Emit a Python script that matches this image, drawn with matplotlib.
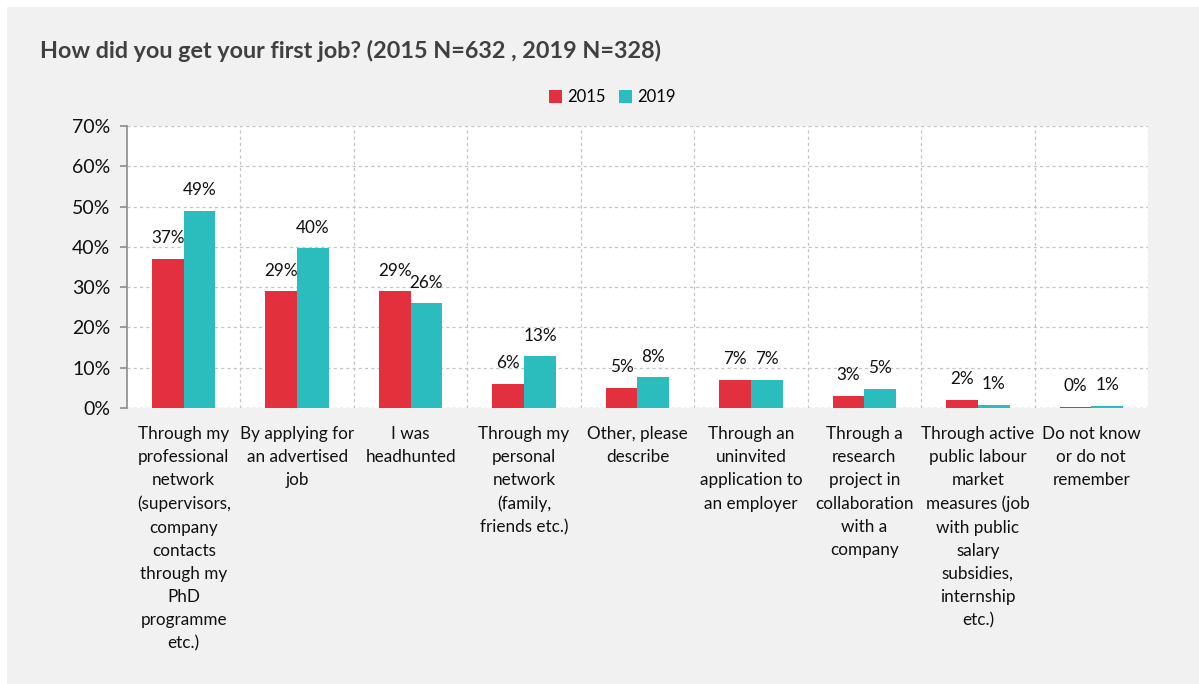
import matplotlib
matplotlib.use("Agg")
import matplotlib.pyplot as plt
import matplotlib.patches as mpatches
import numpy as np

categories = [
    "Through my\nprofessional\nnetwork\n(supervisors,\ncompany\ncontacts\nthrough my\nPhD\nprogramme\netc.)",
    "By applying for\nan advertised\njob",
    "I was\nheadhunted",
    "Through my\npersonal\nnetwork\n(family,\nfriends etc.)",
    "Other, please\ndescribe",
    "Through an\nuninvited\napplication to\nan employer",
    "Through a\nresearch\nproject in\ncollaboration\nwith a\ncompany",
    "Through active\npublic labour\nmarket\nmeasures (job\nwith public\nsalary\nsubsidies,\ninternship\netc.)",
    "Do not know\nor do not\nremember",
]
values_2015 = [37, 29, 29, 6, 5, 7, 3, 2, 0.3]
values_2019 = [49, 39.7, 26, 12.8, 7.6, 7, 4.8, 0.8, 0.6]
labels_2015 = ["37%", "29%", "29%", "6%", "5%", "7%", "3%", "2%", "0%"]
labels_2019 = ["49%", "40%", "26%", "13%", "8%", "7%", "5%", "1%", "1%"]
series_names = ["2015", "2019"]
yticks = [0, 10, 20, 30, 40, 50, 60, 70]

plt.rcParams['font.family'] = ['Lato', 'DejaVu Sans']

W, H = 1199, 684
fig = plt.figure(figsize=(W/100, H/100), dpi=100)
fig.patch.set_facecolor('white')
bg = mpatches.Rectangle((7/W, 0), 1 - 7/W, 1 - 7/H, transform=fig.transFigure,
                        facecolor='#f1f1f1', edgecolor='none', zorder=-10)
fig.patches.append(bg)

ax = fig.add_axes([127/W, 1 - 408/H, (1148-127)/W, (408-126)/H])
ax.set_zorder(1)
ax.set_facecolor('white')

red = '#e3303f'
teal = '#2bbdbd'
n = len(categories)
x = np.arange(n)
bw = 0.28
b1 = ax.bar(x - bw/2, values_2015, bw, color=red, label=series_names[0], zorder=3)
b2 = ax.bar(x + bw/2, values_2019, bw, color=teal, label=series_names[1], zorder=3)

for bars, labs in ((b1, labels_2015), (b2, labels_2019)):
    for r, lab in zip(bars, labs):
        ax.annotate(lab, (r.get_x() + r.get_width()/2, r.get_height()),
                    xytext=(0, 9), textcoords='offset points', ha='center', va='bottom',
                    fontsize=12.3, color='#111111')

ax.set_xlim(-0.5, n - 0.5)
ax.set_ylim(0, 70)
ax.set_yticks(yticks)
ax.set_yticklabels([f"{v}%" for v in yticks], fontsize=14, color='#111111')
ax.yaxis.grid(True, linestyle=(0, (2.5, 2.5)), color='#c4c4c4', linewidth=0.9, zorder=0)
for b in np.arange(0.5, n - 0.5, 1):
    ax.axvline(b, linestyle=(0, (2.5, 2.5)), color='#c4c4c4', linewidth=0.9, zorder=0)
ax.axvline(n - 0.5, linestyle=(0, (2.5, 2.5)), color='#c4c4c4', linewidth=0.9, zorder=0)
ax.axhline(0, linestyle=(0, (2.5, 2.5)), color='#c4c4c4', linewidth=0.9, zorder=1)

for s in ['top', 'right', 'bottom']:
    ax.spines[s].set_visible(False)
ax.spines['left'].set_color('#8c8c8c')
ax.spines['left'].set_linewidth(1.2)
ax.tick_params(axis='y', length=5, color='#8c8c8c', width=1.2, pad=7)

ax.set_xticks(x)
ax.set_xticklabels(categories, fontsize=12.3, color='#111111', linespacing=1.55)
ax.tick_params(axis='x', length=0, pad=13)

fig.text(40/W, 1 - 51/H, "How did you get your first job? (2015 N=632 , 2019 N=328)",
         fontsize=16.8, fontweight='bold', color='#404040', ha='left', va='center')

leg = fig.legend(handles=[b1, b2], labels=series_names, loc='center', bbox_to_anchor=(612/W, 1 - 97/H),
                 ncol=2, frameon=False, fontsize=12, handlelength=0.8, handleheight=0.8,
                 handletextpad=0.3, columnspacing=0.8)

fig.savefig("out.png", dpi=100, facecolor=fig.get_facecolor())
